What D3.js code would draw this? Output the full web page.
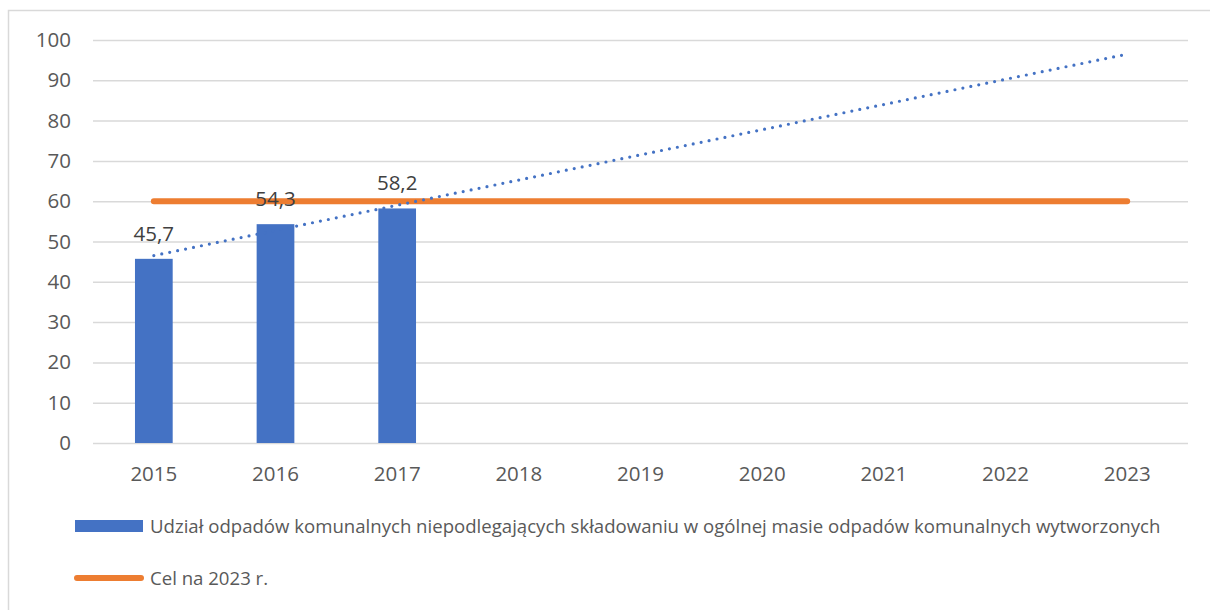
<!DOCTYPE html>
<html>
<head>
<meta charset="utf-8">
<script src="https://cdn.jsdelivr.net/npm/d3@7"></script>
<style>
  body { margin: 0; background: #fff; }
  text { font-family: "Open Sans", "Noto Sans", sans-serif; }
</style>
</head>
<body>
<div id="chart"></div>
<script>
// data
let years = ['2015', '2016', '2017', '2018', '2019', '2020', '2021', '2022', '2023']
let shareYears = ['2015', '2016', '2017']
let shareValues = [45.7, 54.3, 58.2]
let targetValue = 60
let trendYears = ['2015', '2023']
let trendValues = [46.5, 96.5]
let yTicks = [0, 10, 20, 30, 40, 50, 60, 70, 80, 90, 100]
let legendLabels = [
  'Udział odpadów komunalnych niepodlegających składowaniu w ogólnej masie odpadów komunalnych wytworzonych',
  'Cel na 2023 r.'
]

let blue = '#4472c4'
let orange = '#ed7d31'

let margin = { top: 40, left: 93, right: 22, bottom: 167 }
let fullW = 1210
let fullH = 610
let width = fullW - margin.left - margin.right
let height = fullH - margin.top - margin.bottom

let svg = d3
  .select('#chart')
  .append('svg')
  .attr('width', fullW)
  .attr('height', fullH)

// chart frame
svg
  .append('rect')
  .attr('x', 8.5)
  .attr('y', 10.5)
  .attr('width', fullW)
  .attr('height', fullH)
  .attr('fill', 'none')
  .attr('stroke', '#d9d9d9')
  .attr('stroke-width', 1.5)

let g = svg.append('g').attr('transform', `translate(${margin.left},${margin.top})`)

let xPositionScale = d3
  .scaleBand()
  .domain(years)
  .range([0, width])
  .paddingInner(0.69)
  .paddingOuter(0.345)

let yPositionScale = d3
  .scaleLinear()
  .domain([0, 100])
  .range([height, 0])

let xCenter = d => xPositionScale(d) + xPositionScale.bandwidth() / 2

// gridlines + y labels
let yAxis = d3
  .axisLeft(yPositionScale)
  .tickValues(yTicks)
  .tickSize(-width)
  .tickPadding(22)

g.append('g')
  .attr('class', 'axis y-axis')
  .call(yAxis)
  .call(ax => ax.select('.domain').remove())
  .call(ax => ax.selectAll('line').attr('stroke', '#d9d9d9').attr('stroke-width', 1.5))
  .call(ax =>
    ax.selectAll('text').attr('font-size', 20.5).attr('fill', '#595959')
  )

let xAxis = d3.axisBottom(xPositionScale).tickSize(0).tickPadding(23)

g.append('g')
  .attr('class', 'axis x-axis')
  .attr('transform', `translate(0,${height})`)
  .call(xAxis)
  .call(ax => ax.select('.domain').remove())
  .call(ax =>
    ax.selectAll('text').attr('font-size', 20.5).attr('fill', '#595959')
  )

// bars
g.selectAll('.bar')
  .data(shareValues)
  .enter()
  .append('rect')
  .attr('class', 'bar')
  .attr('x', (d, i) => xPositionScale(shareYears[i]))
  .attr('y', d => yPositionScale(d))
  .attr('width', xPositionScale.bandwidth())
  .attr('height', d => height - yPositionScale(d))
  .attr('fill', blue)

// target line
let targetLine = d3
  .line()
  .x(d => xCenter(d))
  .y(() => yPositionScale(targetValue))

g.append('path')
  .datum([years[0], years[years.length - 1]])
  .attr('d', targetLine)
  .attr('fill', 'none')
  .attr('stroke', orange)
  .attr('stroke-width', 6)
  .attr('stroke-linecap', 'round')

// dotted trend line
let trendLine = d3
  .line()
  .x((d, i) => xCenter(trendYears[i]))
  .y(d => yPositionScale(d))

g.append('path')
  .datum(trendValues)
  .attr('d', trendLine)
  .attr('fill', 'none')
  .attr('stroke', blue)
  .attr('stroke-width', 3.2)
  .attr('stroke-linecap', 'round')
  .attr('stroke-dasharray', '0 8.1')

// value labels
g.selectAll('.value-label')
  .data(shareValues)
  .enter()
  .append('text')
  .attr('class', 'value-label')
  .attr('x', (d, i) => xCenter(shareYears[i]))
  .attr('y', d => yPositionScale(d) - 18)
  .attr('text-anchor', 'middle')
  .attr('font-size', 20.5)
  .attr('fill', '#404040')
  .text(d => String(d).replace('.', ','))

// legend
let legend = svg.append('g')

legend
  .append('rect')
  .attr('x', 75)
  .attr('y', 520)
  .attr('width', 68)
  .attr('height', 12)
  .attr('fill', blue)

legend
  .append('line')
  .attr('x1', 77)
  .attr('x2', 141)
  .attr('y1', 578)
  .attr('y2', 578)
  .attr('stroke', orange)
  .attr('stroke-width', 6)
  .attr('stroke-linecap', 'round')

legend
  .selectAll('.legend-label')
  .data(legendLabels)
  .enter()
  .append('text')
  .attr('class', 'legend-label')
  .attr('x', 150)
  .attr('y', (d, i) => 533 + i * 52)
  .attr('font-size', 18.6)
  .attr('fill', '#595959')
  .text(d => d)
</script>
</body>
</html>
